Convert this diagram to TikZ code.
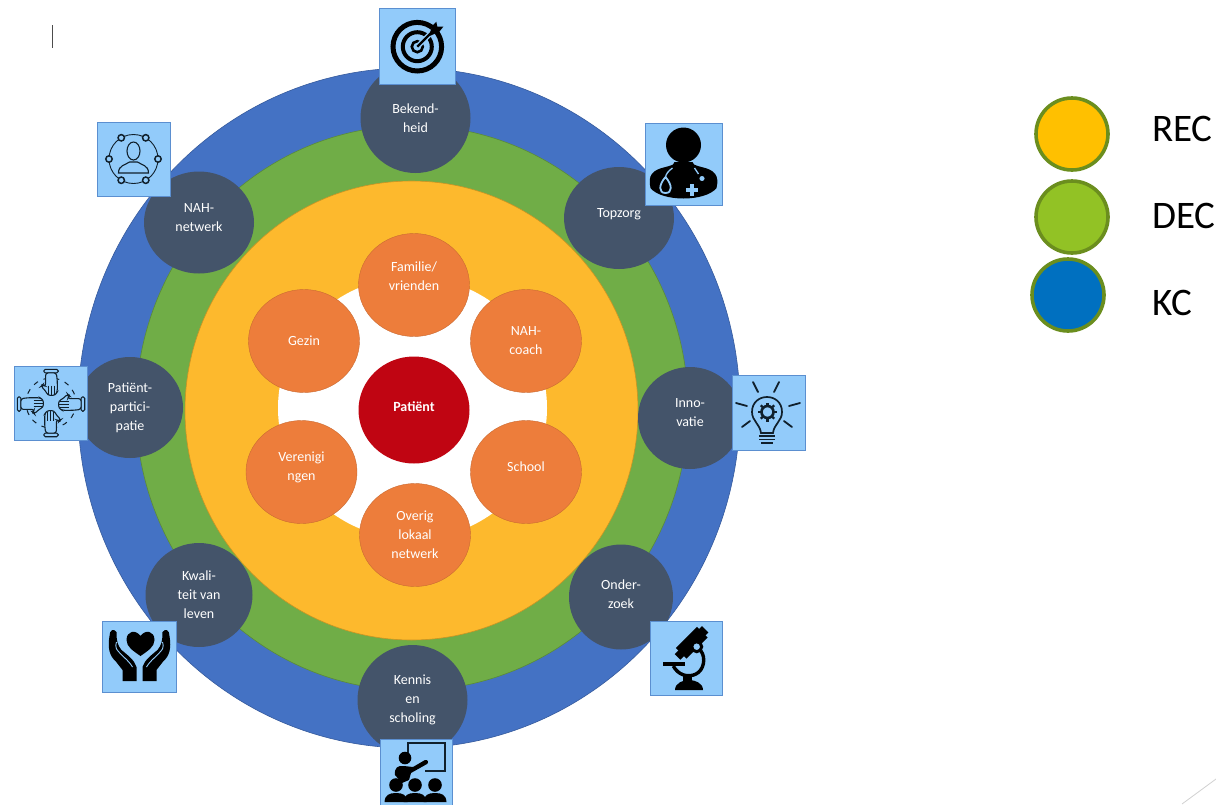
\documentclass[tikz,border=0pt]{standalone}
\usepackage{fontspec}
\setmainfont{Carlito}
\usetikzlibrary{shapes.geometric}
\definecolor{ringblue}{HTML}{4472C4}
\definecolor{ringgreen}{HTML}{70AD47}
\definecolor{ringyellow}{HTML}{FDB92D}
\definecolor{orangec}{HTML}{ED7D3B}
\definecolor{patred}{HTML}{C00512}
\definecolor{darkc}{HTML}{44546A}
\definecolor{boxfill}{HTML}{92CBFA}
\definecolor{boxline}{HTML}{5B8FD0}
\definecolor{legline}{HTML}{6B8E1E}
\definecolor{legyellow}{HTML}{FFC000}
\definecolor{leggreen}{HTML}{92C225}
\definecolor{legblue}{HTML}{0070C0}
\definecolor{icondark}{HTML}{10202C}
\tikzset{
  x=1pt,y=-1pt,
  ring/.style={ellipse,draw=#1!80!black,fill=#1,line width=0.6pt,inner sep=0pt},
  lab/.style={text=white,align=center,inner sep=0pt,font=\fontsize{14}{19}\selectfont},
  orangenode/.style={ellipse,fill=orangec,draw=orangec!85!black,line width=0.4pt,minimum width=111pt,minimum height=103pt,inner sep=0pt,text=white,align=center,font=\fontsize{14}{19}\selectfont},
  darknode/.style={ellipse,fill=darkc,minimum width=110pt,minimum height=104pt,inner sep=0pt,text=white,align=center,font=\fontsize{14}{19}\selectfont},
  iconbox/.style={rectangle,fill=boxfill,draw=boxline,line width=0.8pt,inner sep=0pt},
  legendc/.style={circle,draw=legline,line width=3.6pt,minimum size=72pt,inner sep=0pt},
  legendt/.style={anchor=west,inner sep=0pt,font=\fontsize{39}{39}\selectfont},
  hand/.pic={
    \fill[boxfill,draw=icondark,line width=1.1pt,rounded corners=1.5pt] (-8,-23) rectangle (8,-19);
    \draw[icondark,line width=1.1pt,fill=boxfill,rounded corners=2.5pt] (-6,-19) -- (6,-19) -- (7,-10) -- (7,2) -- (4.5,6) -- (-3.5,6) -- (-6,1) -- (-11,-4) -- (-9,-6) -- (-6,-4) -- cycle;
    \draw[icondark,line width=.8pt] (-2.5,-5) -- (-2.5,5) (.8,-5) -- (.8,5.5) (4,-5) -- (4,5);
  }
}
\begin{document}
\begin{tikzpicture}
\useasboundingbox (0,0) rectangle (1216,804);
\fill[white] (0,0) rectangle (1216,804);

% cursor and corner
\coordinate (cura) at (52.5,25); \coordinate (curb) at (52.5,48);
\draw[black!70,line width=1.5pt] (cura) -- (curb);
\coordinate (corna) at (1182,804); \coordinate (cornb) at (1216,779);
\draw[black!18,line width=0.8pt] (corna) -- (cornb);

% rings
\node[ring=ringblue,minimum width=662pt,minimum height=680pt] (blue) at (409,408) {};
\node[ring=ringgreen,minimum width=552pt,minimum height=565pt] (green) at (412,408) {};
\node[ring=ringyellow,minimum width=453pt,minimum height=459pt] (yellow) at (411.5,410.5) {};
\node[ellipse,fill=white,minimum width=269pt,minimum height=262pt,inner sep=0pt] (white) at (412.5,408) {};

% inner nodes
\node[orangenode,label={[lab,yshift=9pt]center:{Familie/\\vrienden}}] (fam) at (414,285) {};
\node[orangenode] (coach) at (526,341) {NAH-\\coach};
\node[orangenode] (gezin) at (304,341) {Gezin};
\node[orangenode,label={[lab,yshift=5pt]center:{Verenigi\\ngen}}] (ver) at (301.5,472) {};
\node[orangenode,label={[lab,yshift=5pt]center:School}] (school) at (526,472) {};
\node[orangenode] (overig) at (415,535) {Overig\\lokaal\\netwerk};
\node[ellipse,fill=patred,minimum width=111pt,minimum height=107pt,inner sep=0pt,label={[lab,yshift=3pt,font=\fontsize{14}{19}\selectfont\bfseries]center:Patiënt}] (pat) at (414,410) {};

% outer nodes
\node[darknode,minimum height=110pt] (bek) at (415.5,118) {Bekend-\\heid};
\node[darknode,minimum height=102pt,label={[lab,yshift=4pt]center:Topzorg}] (top) at (619,218) {};
\node[darknode,minimum height=102pt,label={[lab,yshift=5pt]center:{NAH-\\netwerk}}] (net) at (199,222.5) {};
\node[darknode,minimum width=104pt,minimum height=102pt,label={[lab,yshift=5pt]center:{Inno-\\vatie}}] (inn) at (690,418) {};
\node[darknode,minimum width=106pt,minimum height=101pt] (par) at (130,407.5) {Patiënt-\\partici-\\patie};
\node[darknode,minimum width=104pt,minimum height=105pt,label={[lab,yshift=3pt]center:{Onder-\\zoek}}] (ond) at (621,597) {};
\node[darknode,minimum width=107pt] (kwa) at (199,595) {Kwali-\\teit van\\leven};
\node[darknode,minimum height=110pt] (ken) at (412.5,700) {Kennis\\en\\scholing};

% icon boxes
\node[iconbox,minimum width=76pt,minimum height=76pt] (b1) at (417,46) {};
\node[iconbox,minimum width=77pt,minimum height=82pt] (b2) at (683.5,164) {};
\node[iconbox,minimum width=73pt,minimum height=74pt] (b3) at (133.5,159) {};
\node[iconbox,minimum width=73pt,minimum height=74pt] (b4) at (51,403) {};
\node[iconbox,minimum width=73pt,minimum height=75pt] (b5) at (768.5,412.5) {};
\node[iconbox,minimum width=72pt,minimum height=74pt] (b6) at (686,658) {};
\node[iconbox,minimum width=74pt,minimum height=71pt] (b7) at (139,656.5) {};
\node[iconbox,minimum width=72pt,minimum height=66pt] (b8) at (416,772) {};

% target
\begin{scope}[shift={(417.3,46.7)}]
  \draw[black,line width=5pt] (0,0) circle (24.3);
  \draw[black,line width=4pt] (0,0) circle (14.5);
  \draw[black,line width=2.6pt] (0,0) circle (5.5);
  \draw[boxfill,line width=5pt] (0,0) -- (17,-17);
  \draw[black,line width=2.4pt] (0,0) -- (18,-18);
  \fill[black] (12,-12) -- (15,-21) -- (19,-25) -- (20,-20) -- (26,-20) -- (22,-15) -- (13,-11) -- cycle;
\end{scope}

% doctor
\begin{scope}[shift={(683.5,164)}]
  \fill[black] (0,-19) circle (17.5);
  \fill[black] (-33,24) .. controls (-36,11) and (-31,6) .. (-18,3) .. controls (-10,1) and (-9,0) .. (-9,-2) -- (9,-2) .. controls (9,0) and (10,1) .. (18,3) .. controls (31,6) and (36,11) .. (33,24) .. controls (22,38) and (-22,38) .. (-33,24) -- cycle;
  \draw[boxfill,line width=1.3pt] (-11,4) .. controls (-15,7) and (-18,10) .. (-18,14);
  \draw[boxfill,line width=1.8pt] (-18,13) .. controls (-25,21) and (-25,29) .. (-18,29) .. controls (-11,29) and (-11,21) .. (-18,13);
  \draw[boxfill,line width=1.3pt] (11,4) -- (15,10);
  \draw[black,line width=2.4pt,fill=boxfill] (18.5,14.5) circle (4);
  \draw[boxfill,line width=3.4pt] (2.5,26) -- (14.5,26) (8.5,20) -- (8.5,32);
\end{scope}

% network
\begin{scope}[shift={(133.5,159)},icondark,line width=.9pt]
  \draw (0,0) circle (24.5);
  \foreach \a in {0,60,120,180,240,300} \draw[fill=boxfill,line width=1.5pt] (\a:24.5) circle (3.2);
  \draw[line width=1.1pt] (0,-8) ellipse (6.5 and 9);
  \draw[line width=1.1pt] (-15,14) .. controls (-15,6) and (-8,6) .. (-4,3) -- (4,3) .. controls (8,6) and (15,6) .. (15,14) -- cycle;
\end{scope}

% hands
\begin{scope}[shift={(51,403)}]
  \draw[icondark,line width=1pt,dash pattern=on 5pt off 6pt] (0,0) circle (25);
  \pic[scale=.9] at (0,-13) {hand};
  \pic[rotate=180,scale=.9] at (0,13) {hand};
  \pic[rotate=90,scale=.9] at (-13,1) {hand};
  \pic[rotate=-90,scale=.9] at (13,1) {hand};
\end{scope}

% bulb
\begin{scope}[shift={(767,412)},icondark]
  \draw[line width=1.7pt] (-6,21) .. controls (-7,12) and (-15,9) .. (-15,0) .. controls (-15,-20) and (15,-20) .. (15,0) .. controls (15,9) and (7,12) .. (6,21) -- cycle;
  \draw[line width=2.6pt,fill=boxfill] (0.5,0) circle (6);
  \foreach \a in {0,45,...,315} \draw[line width=2.4pt] (0.5,0) ++(\a:6) -- ++(\a:3.5);
  \draw[line width=1.5pt] (-8,24) -- (8,24) (-8,27.5) -- (8,27.5) (-6,31) -- (6,31);
  \draw[line width=1.8pt,line cap=round] (-14,-30) -- (-9,-20) (12,-30) -- (7,-20) (-31,-9) -- (-20,-6) (33,-9) -- (22,-6) (-25,15) -- (-17,9) (25,15) -- (17,9);
\end{scope}

% microscope
\begin{scope}[shift={(686,658)}]
  \begin{scope}[shift={(5.7,-15.3)},rotate=45]
    \fill[black] (-15,-7.5) rectangle (15,7.5);
    \fill[black] (13,-4.5) rectangle (19,4.5);
    \fill[black] (-20,-4) rectangle (-13,4);
  \end{scope}
  \draw[black,line width=3pt,fill=boxfill] (10.7,-11.3) circle (5);
  \draw[black,line width=3.4pt] (15,-7) .. controls (20,0) and (18,12) .. (10,16) .. controls (2,20) and (-8,17) .. (-12.7,8);
  \fill[black] (-23,3.7) -- (-1,3.7) -- (-1,7.5) -- (-23,7.5) -- cycle;
  \fill[black] (-3,17) rectangle (6,24);
  \fill[black] (-11,32) .. controls (-11,25) and (-3,22) .. (3,22) .. controls (9,22) and (17,25) .. (17,32) -- cycle;
\end{scope}

% caring hands
\begin{scope}[shift={(139.5,656)}]
  \fill[black] (1,0) .. controls (-6,-5) and (-13,-9) .. (-13,-16) .. controls (-13,-25) and (-4,-27) .. (1,-20) .. controls (6,-27) and (15,-25) .. (15,-16) .. controls (15,-9) and (8,-5) .. (1,0) -- cycle;
  \foreach \s in {1,-1} {
    \begin{scope}[xscale=\s]
      \fill[black] (3,25) -- (3,11) .. controls (5,4) and (12,-1) .. (18,-6) .. controls (22,-11) and (23,-15) .. (23,-24) .. controls (26,-28) and (30,-26) .. (30,-20) .. controls (32,-8) and (30,0) .. (24,5) -- (17,14) -- (17,25) -- cycle;
      \draw[boxfill,line width=.9pt] (7,11) .. controls (11,4) and (18,0) .. (23,-7) .. controls (24,-9) and (24,-12) .. (23,-14);
    \end{scope}
  }
\end{scope}

% teacher
\begin{scope}[shift={(416,772)}]
  \draw[icondark,line width=1.8pt] (-8,-15) -- (-8,-29) -- (29,-29) -- (29,-1) -- (9,-1);
  \fill[black] (-11,-14) circle (6.3);
  \fill[black] (-21,3) .. controls (-22,-4) and (-18,-7) .. (-12,-6) -- (-3,-5) -- (9,-12) .. controls (12,-13) and (13,-9) .. (11,-8) -- (-5,1) -- (-7,8) -- (-14,11) -- cycle;
  \foreach \x in {-20,-1,19} {
    \fill[black] (\x,13) circle (6.8);
    \fill[black] (\x-11.5,30) .. controls (\x-11,23) and (\x-7,21) .. (\x,21) .. controls (\x+7,21) and (\x+11,23) .. (\x+11.5,30) -- cycle;
  }
\end{scope}

% legend
\node[legendc,fill=legyellow] (l1) at (1072,134) {};
\node[legendc,fill=leggreen] (l2) at (1072,217) {};
\node[legendc,fill=legblue] (l3) at (1068,295) {};
\node[legendt] (t1) at (1152,129) {REC};
\node[legendt] (t2) at (1152,216) {DEC};
\node[legendt] (t3) at (1152,303) {KC};
\end{tikzpicture}
\end{document}
